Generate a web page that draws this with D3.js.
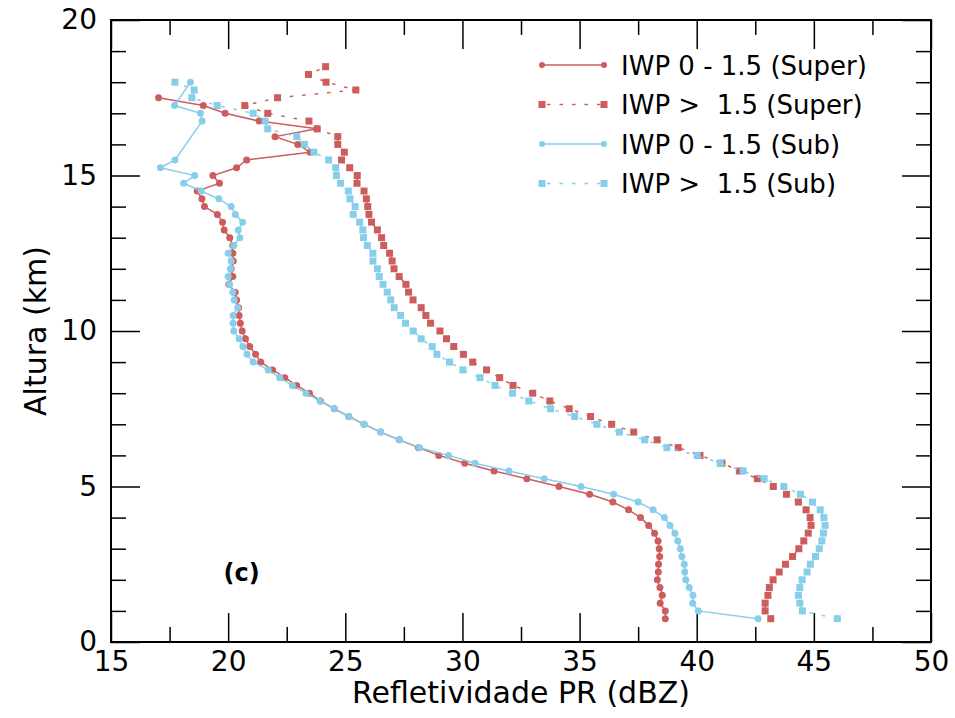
<!DOCTYPE html>
<html>
<head>
<meta charset="utf-8">
<script src="https://cdn.jsdelivr.net/npm/d3@7"></script>
<style>
  body { margin: 0; background: #fff; }
  svg { font-family: "DejaVu Sans", sans-serif; }
</style>
</head>
<body>
<svg width="955" height="718"></svg>
<script>
// altitudes (km), one row every 0.25 km
var altura = [0.75, 1.0, 1.25, 1.5, 1.75, 2.0, 2.25, 2.5, 2.75, 3.0, 3.25, 3.5, 3.75, 4.0, 4.25, 4.5,
  4.75, 5.0, 5.25, 5.5, 5.75, 6.0, 6.25, 6.5, 6.75, 7.0, 7.25, 7.5, 7.75, 8.0, 8.25, 8.5,
  8.75, 9.0, 9.25, 9.5, 9.75, 10.0, 10.25, 10.5, 10.75, 11.0, 11.25, 11.5, 11.75, 12.0, 12.25, 12.5,
  12.75, 13.0, 13.25, 13.5, 13.75, 14.0, 14.25, 14.5, 14.75, 15.0, 15.25, 15.5, 15.75, 16.0, 16.25, 16.5,
  16.75, 17.0, 17.25, 17.5, 17.75, 18.0, 18.25, 18.5];

// dBZ, IWP 0 - 1.5 (Super)
var superBaixo = [38.66, 38.66, 38.44, 38.53, 38.43, 38.32, 38.36, 38.37, 38.42, 38.40, 38.35, 38.20, 37.95, 37.60, 37.09, 36.42,
  35.43, 34.12, 32.75, 31.35, 30.10, 28.99, 28.13, 27.30, 26.51, 25.80, 25.15, 24.53, 23.94, 23.47, 22.92, 22.42,
  21.90, 21.39, 21.17, 20.92, 20.74, 20.60, 20.52, 20.47, 20.45, 20.36, 20.30, 20.03, 20.20, 20.13, 20.22, 20.20,
  20.20, 20.07, 19.83, 19.76, 19.54, 18.99, 18.88, 18.68, 19.63, 19.35, 20.36, 20.79, 23.50, 22.97, 22.00, 23.79,
  21.32, 19.87, 18.94, 17.03, null, null, null, null];

// dBZ, IWP > 1.5 (Super)
var superAlto = [43.16, 42.92, 42.92, 43.04, 43.10, 43.26, 43.52, 43.79, 44.09, 44.36, 44.57, 44.76, 44.88, 44.84, 44.67, 44.34,
  43.83, 43.27, 42.59, 41.82, 41.08, 40.14, 39.21, 38.31, 37.31, 36.37, 35.47, 34.56, 33.73, 33.00, 32.16, 31.59,
  31.03, 30.44, 30.04, 29.63, 29.32, 29.04, 28.64, 28.44, 28.24, 27.89, 27.70, 27.59, 27.30, 27.08, 27.00, 26.89,
  26.64, 26.55, 26.37, 26.12, 26.01, 25.96, 25.90, 25.80, 25.50, 25.51, 25.19, 24.84, 24.96, 24.68, 24.68, 23.80,
  23.45, 21.69, 20.71, 22.11, 25.45, 24.18, 23.43, 24.16];

// dBZ, IWP 0 - 1.5 (Sub)
var subBaixo = [42.62, 40.07, 39.83, 39.84, 39.68, 39.53, 39.49, 39.47, 39.37, 39.30, 39.19, 39.07, 38.86, 38.62, 38.14, 37.50,
  36.45, 35.06, 33.49, 31.98, 30.54, 29.41, 28.17, 27.31, 26.51, 25.80, 25.15, 24.53, 23.92, 23.32, 22.74, 22.20,
  21.71, 21.07, 20.81, 20.63, 20.47, 20.24, 20.21, 20.21, 20.41, 20.26, 20.20, 20.06, 20.00, 20.10, 20.13, 20.00,
  20.24, 20.50, 20.43, 20.62, 20.31, 20.13, 19.60, 18.85, 18.10, 18.57, 17.11, 17.73, null, null, null, null,
  18.89, 18.82, 17.71, null, null, 18.39, null, null];

// dBZ, IWP > 1.5 (Sub)
var subAlto = [46.00, 44.51, 44.40, 44.34, 44.40, 44.50, 44.71, 44.85, 45.07, 45.23, 45.34, 45.41, 45.48, 45.43, 45.27, 44.94,
  44.43, 43.72, 42.88, 41.98, 41.00, 40.02, 38.73, 37.78, 36.70, 35.74, 34.79, 33.76, 32.83, 32.14, 31.39, 30.75,
  30.02, 29.45, 28.91, 28.71, 28.24, 27.90, 27.57, 27.36, 27.09, 26.94, 26.79, 26.61, 26.45, 26.37, 26.18, 26.18,
  25.94, 25.78, 25.75, 25.61, 25.34, 25.42, 25.20, 25.13, 24.80, 24.62, 24.59, 24.29, 23.66, 23.26, 22.93, 21.69,
  21.58, 21.07, 19.53, 18.45, 18.55, 17.73, null, null];

var xTicks = [15, 20, 25, 30, 35, 40, 45, 50];
var xMinor = [17.5, 22.5, 27.5, 32.5, 37.5, 42.5, 47.5];
var yTicks = [0, 5, 10, 15, 20];
var yMinor = [1, 2, 3, 4, 6, 7, 8, 9, 11, 12, 13, 14, 16, 17, 18, 19];

var vermelho = "#cd5c5c", azul = "#87ceeb";

// the ">" labels have two spaces in the original, kept with a no-break space
var series = [
  { nome: "IWP 0 - 1.5 (Super)", vals: superBaixo, cor: vermelho, tracejado: false },
  { nome: "IWP >\u00a0 1.5 (Super)", vals: superAlto, cor: vermelho, tracejado: true },
  { nome: "IWP 0 - 1.5 (Sub)", vals: subBaixo, cor: azul, tracejado: false },
  { nome: "IWP >\u00a0 1.5 (Sub)", vals: subAlto, cor: azul, tracejado: true }
];

var mLeft = 111, mRight = 931, mTop = 20, mBottom = 642;

var svg = d3.select("svg");

var x = d3.scaleLinear().domain([15, 50]).range([mLeft, mRight]);
var y = d3.scaleLinear().domain([0, 20]).range([mBottom, mTop]);

// axes with inward ticks
function estilo(g) {
  g.selectAll(".domain").remove();
  g.selectAll("line").attr("stroke", "#000").attr("stroke-width", 1.5);
  g.selectAll("text").attr("font-size", 28).attr("fill", "#000").attr("font-family", "DejaVu Sans");
}

svg.append("g").attr("transform", "translate(0," + mBottom + ")")
  .call(d3.axisBottom(x).tickValues(xTicks).tickSizeInner(-29).tickSizeOuter(0).tickPadding(9).tickFormat(d3.format("d")))
  .call(estilo);
svg.append("g").attr("transform", "translate(0," + mBottom + ")")
  .call(d3.axisBottom(x).tickValues(xMinor).tickSizeInner(-15).tickSizeOuter(0).tickFormat(""))
  .call(estilo);
svg.append("g").attr("transform", "translate(0," + mTop + ")")
  .call(d3.axisTop(x).tickValues(xTicks).tickSizeInner(-29).tickSizeOuter(0).tickFormat(""))
  .call(estilo);
svg.append("g").attr("transform", "translate(0," + mTop + ")")
  .call(d3.axisTop(x).tickValues(xMinor).tickSizeInner(-15).tickSizeOuter(0).tickFormat(""))
  .call(estilo);

svg.append("g").attr("transform", "translate(" + mLeft + ",0)")
  .call(d3.axisLeft(y).tickValues(yTicks).tickSizeInner(-29).tickSizeOuter(0).tickPadding(14).tickFormat(d3.format("d")))
  .call(estilo);
svg.append("g").attr("transform", "translate(" + mLeft + ",0)")
  .call(d3.axisLeft(y).tickValues(yMinor).tickSizeInner(-15).tickSizeOuter(0).tickFormat(""))
  .call(estilo);
svg.append("g").attr("transform", "translate(" + mRight + ",0)")
  .call(d3.axisRight(y).tickValues(yTicks).tickSizeInner(-29).tickSizeOuter(0).tickFormat(""))
  .call(estilo);
svg.append("g").attr("transform", "translate(" + mRight + ",0)")
  .call(d3.axisRight(y).tickValues(yMinor).tickSizeInner(-15).tickSizeOuter(0).tickFormat(""))
  .call(estilo);

svg.append("rect")
  .attr("x", mLeft).attr("y", mTop)
  .attr("width", mRight - mLeft).attr("height", mBottom - mTop)
  .attr("fill", "none").attr("stroke", "#000").attr("stroke-width", 2);

// series
var linha = d3.line().x(function(d) { return x(d.v); }).y(function(d) { return y(d.h); });

series.forEach(function(s) {
  var pts = altura.map(function(h, i) { return { h: h, v: s.vals[i] }; })
    .filter(function(d) { return d.v !== null; });

  svg.append("path").datum(pts)
    .attr("d", linha)
    .attr("fill", "none")
    .attr("stroke", s.cor)
    .attr("stroke-width", 1.5)
    .attr("stroke-dasharray", s.tracejado ? "3.5,9" : null);

  if (s.tracejado) {
    svg.append("g").selectAll("rect").data(pts).enter().append("rect")
      .attr("x", function(d) { return x(d.v) - 3.5; })
      .attr("y", function(d) { return y(d.h) - 3.5; })
      .attr("width", 7).attr("height", 7)
      .attr("fill", s.cor);
  } else {
    svg.append("g").selectAll("circle").data(pts).enter().append("circle")
      .attr("cx", function(d) { return x(d.v); })
      .attr("cy", function(d) { return y(d.h); })
      .attr("r", 3.5)
      .attr("fill", s.cor);
  }
});

// legend
var leg = svg.append("g");
series.forEach(function(s, i) {
  var ly = 65 + i * 39.5;
  leg.append("line")
    .attr("x1", 542).attr("x2", 604).attr("y1", ly).attr("y2", ly)
    .attr("stroke", s.cor).attr("stroke-width", 1.5)
    .attr("stroke-dasharray", s.tracejado ? "3.5,9" : null)
    .attr("stroke-dashoffset", s.tracejado ? -5 : 0);
  [542, 604].forEach(function(px) {
    if (s.tracejado) {
      leg.append("rect").attr("x", px - 3.5).attr("y", ly - 3.5).attr("width", 7).attr("height", 7).attr("fill", s.cor);
    } else {
      leg.append("circle").attr("cx", px).attr("cy", ly).attr("r", 3).attr("fill", s.cor);
    }
  });
  leg.append("text")
    .attr("x", 621).attr("y", ly + 9.5)
    .attr("font-size", 26)
    .text(s.nome);
});

// panel label
svg.append("text")
  .attr("x", x(19.8)).attr("y", y(1.95))
  .attr("font-size", 24).attr("font-weight", "bold")
  .text("(c)");

// axis titles
svg.append("text")
  .attr("x", (mLeft + mRight) / 2).attr("y", 703)
  .attr("text-anchor", "middle").attr("font-size", 30)
  .text("Refletividade PR (dBZ)");

svg.append("text")
  .attr("transform", "translate(46," + ((mTop + mBottom) / 2) + ") rotate(-90)")
  .attr("text-anchor", "middle").attr("font-size", 30)
  .text("Altura (km)");
</script>
</body>
</html>
